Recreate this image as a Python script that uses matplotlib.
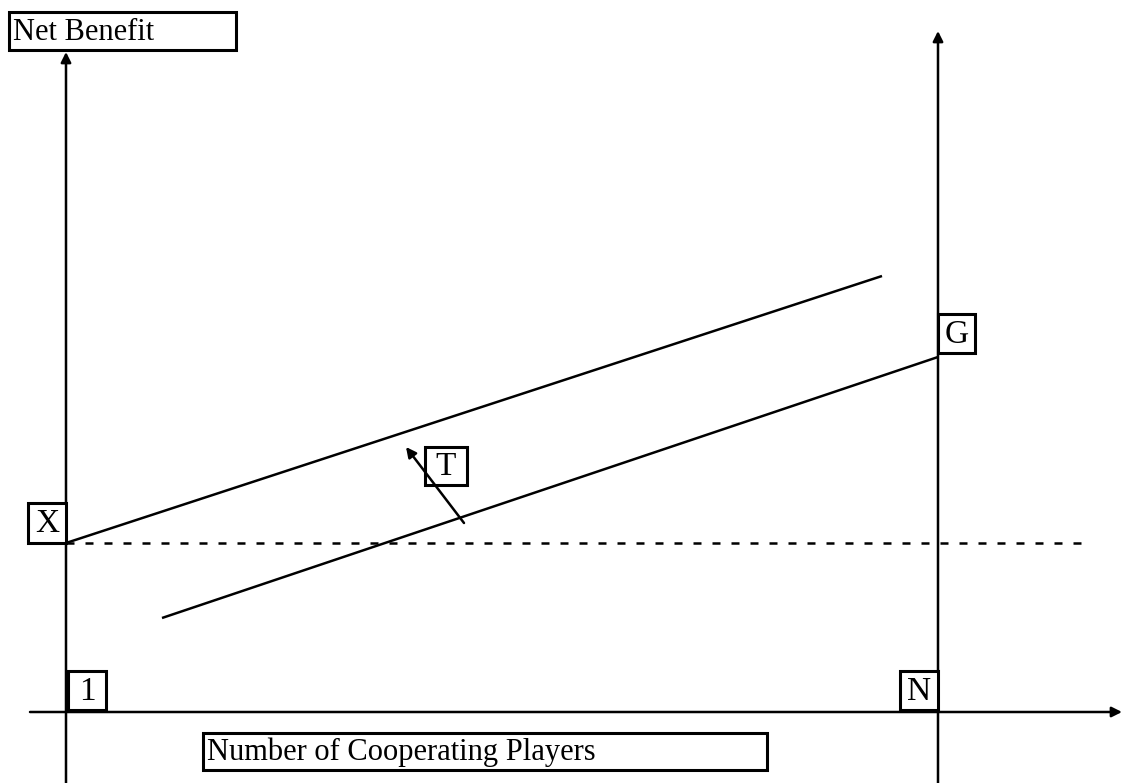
import matplotlib.pyplot as plt
from matplotlib.patches import Rectangle

# diagram coordinates (pixel-like units, y grows downward)
axis_left_x = 66
axis_right_x = 938
axis_h_y = 712

upper_line_x = [66, 882]
upper_line_y = [543, 276]
lower_line_x = [162, 938]
lower_line_y = [618, 357]
dashed_x = [66, 1085]
dashed_y = [543, 543]
shift_arrow_start = (464, 523)
shift_arrow_end = (406, 447)

# labelled boxes: text, x0, y0, width, height
box_labels = ["Net Benefit", "X", "G", "T", "1", "N", "Number of Cooperating Players"]
box_x = [9, 28, 938, 425, 68, 900, 203]
box_y = [12, 503, 314, 447, 671, 671, 733]
box_w = [227, 38, 37, 42, 38, 38, 564]
box_h = [38, 40, 39, 38, 39, 39, 37]

plt.rcParams['font.family'] = ['Liberation Serif', 'DejaVu Serif']

fig = plt.figure(figsize=(11.23, 7.83), dpi=100)
ax = fig.add_axes([0, 0, 1, 1])
ax.set_xlim(0, 1123)
ax.set_ylim(783, 0)
ax.axis('off')

lw = 1.8
arrow_props = dict(arrowstyle='-|>', color='black', lw=lw, mutation_scale=15, shrinkA=0, shrinkB=0)

# axes with arrowheads
ax.annotate('', xy=(axis_left_x, 52), xytext=(axis_left_x, 783), arrowprops=arrow_props)
ax.annotate('', xy=(axis_right_x, 31), xytext=(axis_right_x, 783), arrowprops=arrow_props)
ax.annotate('', xy=(1122, axis_h_y), xytext=(30, axis_h_y), arrowprops=arrow_props)

# benefit lines
ax.plot(upper_line_x, upper_line_y, color='black', lw=lw, solid_capstyle='butt')
ax.plot(lower_line_x, lower_line_y, color='black', lw=lw, solid_capstyle='butt')
ax.plot(dashed_x, dashed_y, color='black', lw=lw, dashes=(3.2, 4.4))

for label, x0, y0, w, h in zip(box_labels, box_x, box_y, box_w, box_h):
    ax.add_patch(Rectangle((x0, y0), w, h, fill=True, facecolor='white',
                           edgecolor='black', lw=2.2, zorder=3))
    if len(label) > 1:
        ax.text(x0 + 4, y0 + h / 2 + 1, label, ha='left', va='center',
                fontsize=22, zorder=4)
    else:
        ax.text(x0 + w / 2, y0 + h / 2 + 1, label, ha='center', va='center',
                fontsize=24, zorder=4)

# shift arrow drawn on top of the T box
ax.annotate('', xy=shift_arrow_end, xytext=shift_arrow_start, arrowprops=arrow_props, zorder=5)

fig.savefig('out.png', dpi=100)
